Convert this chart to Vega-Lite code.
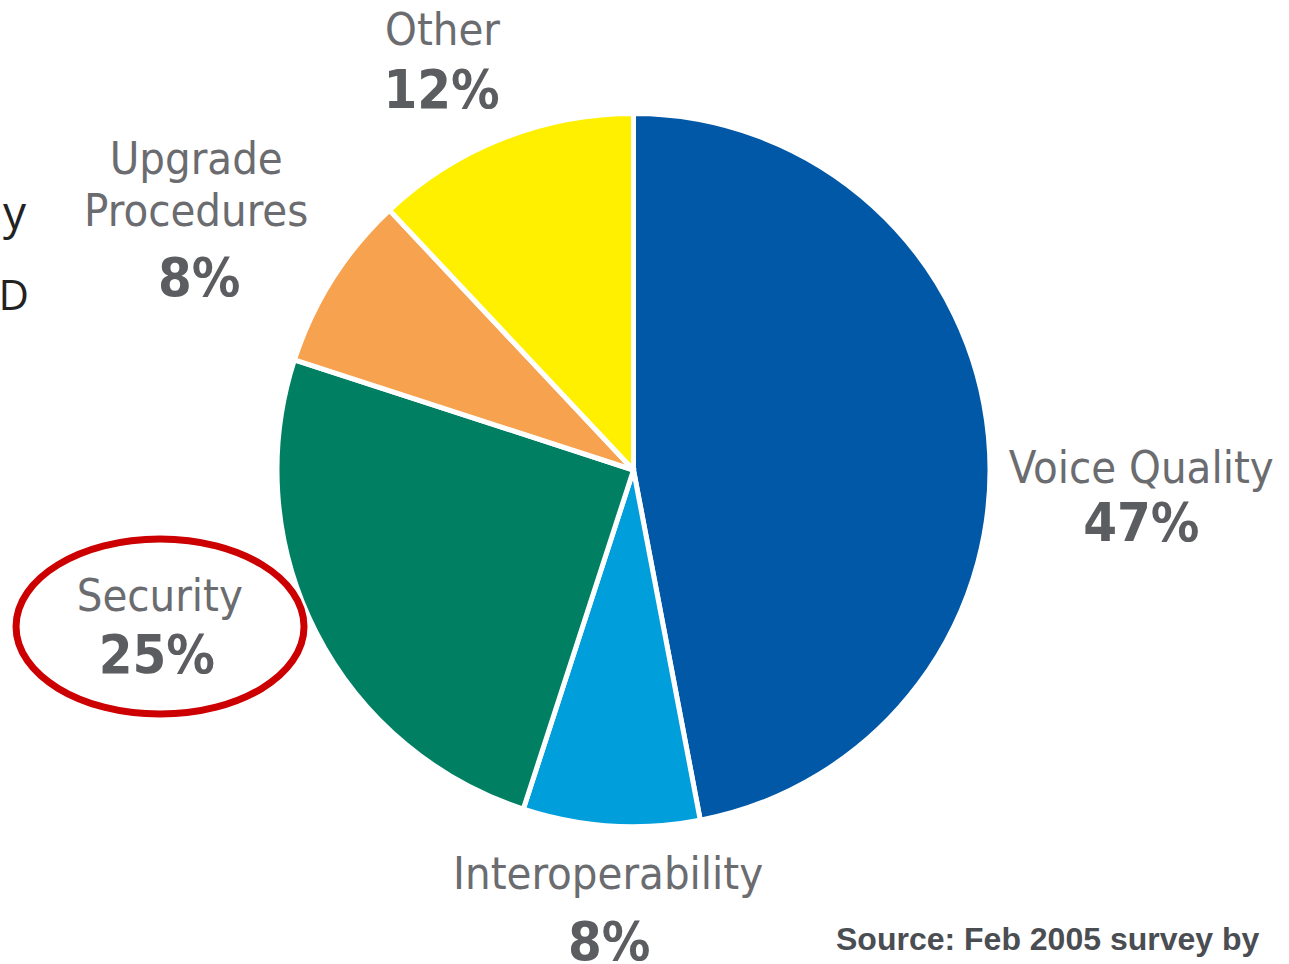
{
  "$schema": "https://vega.github.io/schema/vega-lite/v6.json",
  "width": 1267,
  "height": 940,
  "autosize": {"type": "none"},
  "padding": {"left": 0, "top": 0, "right": 22, "bottom": 24},
  "background": "white",
  "config": {"view": {"stroke": null}},
  "data": {"values": [
    {"cat": "Voice Quality", "pct": 47, "label": "47%", "rank": 1},
    {"cat": "Interoperability", "pct": 8, "label": "8%", "rank": 2},
    {"cat": "Security", "pct": 25, "label": "25%", "rank": 3},
    {"cat": "Upgrade Procedures", "pct": 8, "label": "8%", "rank": 4},
    {"cat": "Other", "pct": 12, "label": "12%", "rank": 5}
  ]},
  "encoding": {
    "theta": {"field": "pct", "type": "quantitative", "stack": true},
    "order": {"field": "rank", "type": "quantitative"}
  },
  "layer": [
    {
      "mark": {"type": "arc", "outerRadius": 356.5, "stroke": "white", "strokeWidth": 5},
      "encoding": {
        "color": {"field": "cat", "type": "nominal", "legend": null,
          "scale": {"domain": ["Voice Quality", "Interoperability", "Security", "Upgrade Procedures", "Other"],
                    "range": ["#0058A6", "#009EDB", "#007F63", "#F7A24F", "#FFF000"]}}
      }
    },
    {
      "mark": {"type": "text", "radius": 500, "dx": 10, "dy": 60, "align": "center", "baseline": "alphabetic", "font": "DejaVu Sans Condensed, sans-serif", "fontSize": 45, "fill": "#6b6c6f"},
      "encoding": {"text": {"condition": {"test": "datum.cat === 'Voice Quality'", "field": "cat"}, "value": ""}}
    },
    {
      "mark": {"type": "text", "radius": 500, "dx": 10, "dy": 118, "align": "center", "baseline": "alphabetic", "font": "DejaVu Sans Condensed, sans-serif", "fontSize": 54, "fontWeight": "bold", "fill": "#5c5d60"},
      "encoding": {"text": {"condition": {"test": "datum.cat === 'Voice Quality'", "field": "label"}, "value": ""}}
    },
    {
      "mark": {"type": "text", "radius": 420, "dx": 1, "dy": 0, "align": "center", "baseline": "alphabetic", "font": "DejaVu Sans Condensed, sans-serif", "fontSize": 45, "fill": "#6b6c6f"},
      "encoding": {"text": {"condition": {"test": "datum.cat === 'Interoperability'", "field": "cat"}, "value": ""}}
    },
    {
      "mark": {"type": "text", "radius": 420, "dx": 2, "dy": 71, "align": "center", "baseline": "alphabetic", "font": "DejaVu Sans Condensed, sans-serif", "fontSize": 54, "fontWeight": "bold", "fill": "#5c5d60"},
      "encoding": {"text": {"condition": {"test": "datum.cat === 'Interoperability'", "field": "label"}, "value": ""}}
    },
    {
      "mark": {"type": "text", "radius": 480, "dx": -46, "dy": -77, "align": "center", "baseline": "alphabetic", "font": "DejaVu Sans Condensed, sans-serif", "fontSize": 45, "fill": "#6b6c6f"},
      "encoding": {"text": {"condition": {"test": "datum.cat === 'Security'", "field": "cat"}, "value": ""}}
    },
    {
      "mark": {"type": "text", "radius": 480, "dx": -49, "dy": -15, "align": "center", "baseline": "alphabetic", "font": "DejaVu Sans Condensed, sans-serif", "fontSize": 54, "fontWeight": "bold", "fill": "#5c5d60"},
      "encoding": {"text": {"condition": {"test": "datum.cat === 'Security'", "field": "label"}, "value": ""}}
    },
    {
      "mark": {"type": "point", "shape": "M -2.288 1.087 C -2.288 1.4228 -2.7357 1.695 -3.288 1.695 C -3.8403 1.695 -4.288 1.4228 -4.288 1.087 C -4.288 0.7512 -3.8403 0.479 -3.288 0.479 C -2.7357 0.479 -2.288 0.7512 -2.288 1.087 Z", "size": 82944, "filled": false, "stroke": "#CC0000", "strokeWidth": 7},
      "encoding": {"opacity": {"condition": {"test": "datum.cat === 'Security'", "value": 1}, "value": 0}}
    },
    {
      "mark": {"type": "text", "radius": 480, "dx": -32, "dy": -39, "lineBreak": " ", "lineHeight": 52, "align": "center", "baseline": "alphabetic", "font": "DejaVu Sans Condensed, sans-serif", "fontSize": 45, "fill": "#6b6c6f"},
      "encoding": {"text": {"condition": {"test": "datum.cat === 'Upgrade Procedures'", "field": "cat"}, "value": ""}}
    },
    {
      "mark": {"type": "text", "radius": 480, "dx": -29, "dy": 83, "align": "center", "baseline": "alphabetic", "font": "DejaVu Sans Condensed, sans-serif", "fontSize": 54, "fontWeight": "bold", "fill": "#5c5d60"},
      "encoding": {"text": {"condition": {"test": "datum.cat === 'Upgrade Procedures'", "field": "label"}, "value": ""}}
    },
    {
      "mark": {"type": "text", "radius": 440, "dx": -29, "dy": -16, "align": "center", "baseline": "alphabetic", "font": "DejaVu Sans Condensed, sans-serif", "fontSize": 45, "fill": "#6b6c6f"},
      "encoding": {"text": {"condition": {"test": "datum.cat === 'Other'", "field": "cat"}, "value": ""}}
    },
    {
      "mark": {"type": "text", "radius": 440, "dx": -30, "dy": 47, "align": "center", "baseline": "alphabetic", "font": "DejaVu Sans Condensed, sans-serif", "fontSize": 54, "fontWeight": "bold", "fill": "#5c5d60"},
      "encoding": {"text": {"condition": {"test": "datum.cat === 'Other'", "field": "label"}, "value": ""}}
    },
    {
      "data": {"values": [{"note": "Source: Feb 2005 survey by"}]},
      "mark": {"type": "text", "x": 836, "y": 950, "align": "left", "baseline": "alphabetic", "font": "Liberation Sans, Arial, sans-serif", "fontSize": 32, "fontWeight": "bold", "fill": "#4a4d52"},
      "encoding": {"text": {"field": "note"}, "theta": null, "order": null}
    },
    {
      "data": {"values": [{"note": "y"}]},
      "mark": {"type": "text", "x": 26, "y": 229, "align": "right", "baseline": "alphabetic", "font": "Open Sans, sans-serif", "fontSize": 46, "fill": "#222222"},
      "encoding": {"text": {"field": "note"}, "theta": null, "order": null}
    },
    {
      "data": {"values": [{"note": "D"}]},
      "mark": {"type": "text", "x": 29, "y": 310, "align": "right", "baseline": "alphabetic", "font": "Open Sans, sans-serif", "fontSize": 42, "fill": "#222222"},
      "encoding": {"text": {"field": "note"}, "theta": null, "order": null}
    }
  ]
}
